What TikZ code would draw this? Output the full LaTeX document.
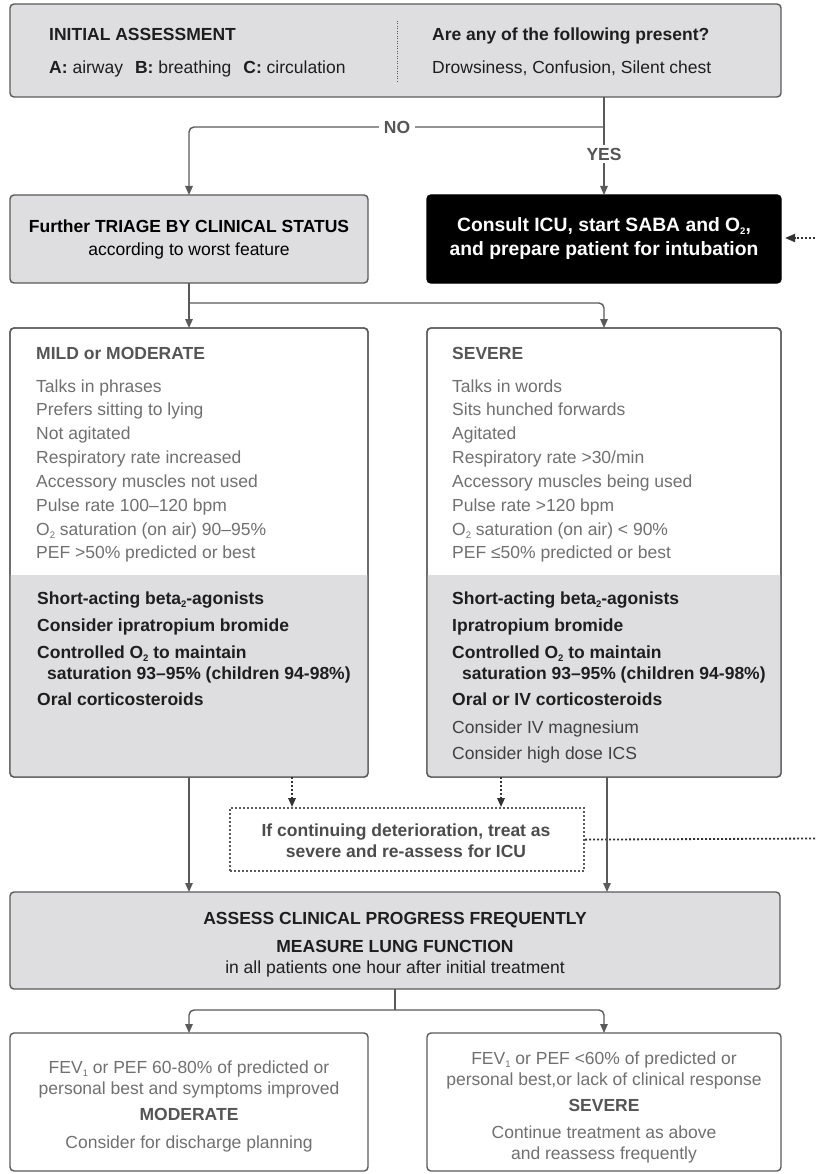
\documentclass[tikz,border=0pt]{standalone}
\usepackage{fontspec}
\setmainfont{Liberation Sans}
\usetikzlibrary{arrows.meta}
\definecolor{boxgray}{HTML}{DEDEE0}
\definecolor{linegray}{HTML}{5A5A5A}
\definecolor{txtgray}{HTML}{707070}
\definecolor{hdrgray}{HTML}{555555}
\definecolor{darktxt}{HTML}{1E1E1E}
\newcommand\myfs{\fontsize{17.5}{22}\selectfont}
\newcommand\mysub[1]{\raisebox{-3pt}{\fontsize{9.5}{10}\selectfont #1}}
\begin{document}
\begin{tikzpicture}[x=1pt,y=-1pt,
  box/.style={draw=linegray,line width=1.4pt,rounded corners=4pt,anchor=north west,inner sep=0pt,outer sep=0pt},
  conn/.style={draw=linegray,line width=1.4pt,rounded corners=5pt},
  arr/.style={-{Triangle[length=9pt,width=7.5pt]}},
  dotln/.style={draw=black!80,line width=1.8pt,dash pattern=on 1.8pt off 2.2pt},
  txt/.style={font=\myfs,anchor=base west,inner sep=0pt},
  btxt/.style={font=\myfs\bfseries,anchor=base west,inner sep=0pt},
  ctxt/.style={font=\myfs,anchor=base,inner sep=0pt},
  cbtxt/.style={font=\myfs\bfseries,anchor=base,inner sep=0pt},
]
\useasboundingbox (0,0) rectangle (815,1174);
\fill[white] (0,0) rectangle (815,1174);

% ---------- top box
\node[box,fill=boxgray,minimum width=771pt,minimum height=93pt] (top) at (10,4) {};
\draw[linegray,line width=1pt,dash pattern=on 1pt off 1.5pt] (397,21) -- (397,82);
\node[btxt,text=darktxt] (t1) at (49,41) {INITIAL ASSESSMENT};
\node[txt,text=darktxt] (t2) at (49,74) {\textbf{A:} airway\hspace{12pt}\textbf{B:} breathing\hspace{12pt}\textbf{C:} circulation};
\node[btxt,text=darktxt] (t3) at (432,41) {Are any of the following present?};
\node[txt,text=darktxt] (t4) at (432,74) {Drowsiness, Confusion, Silent chest};

% ---------- triage and ICU
\node[box,fill=boxgray,minimum width=358pt,minimum height=88pt,align=center,font=\myfs,text=black] (triage) at (10,195)
  {{\bfseries Further TRIAGE BY CLINICAL STATUS}\\[1pt]according to worst feature};
\node[box,draw=black,fill=black,minimum width=354pt,minimum height=88pt,align=center,font=\fontsize{19.3}{24}\selectfont\bfseries,text=white] (icu) at (427,195)
  {Consult ICU, start SABA and O\mysub{2},\\and prepare patient for intubation};

% connectors from top
\coordinate (j1) at (604,127);
\draw[conn] (604,0 |- top.south) -- (j1);
\draw[conn,arr] (j1) -| (triage.north);
\draw[conn,arr] (j1) -- (icu.north);
\node[fill=white,inner sep=5pt,font=\myfs\bfseries,text=hdrgray] (no) at (397,127) {NO};
\node[fill=white,inner sep=3pt,font=\myfs\bfseries,text=hdrgray] (yes) at (604,154) {YES};

% dotted arrow into ICU from the right
\coordinate (offa) at (815,238);
\coordinate (icuin) at (785,238);
\draw[dotln,-{Triangle[length=10pt,width=8pt]}] (offa) -- (icuin);

% ---------- mild and severe boxes
\node[box,fill=white,minimum width=358pt,minimum height=449pt] (mild) at (10,328) {};
\node[box,fill=white,minimum width=354pt,minimum height=449pt] (severe) at (427,328) {};
\begin{scope}
  \clip[rounded corners=4pt] (mild.north west) rectangle (mild.south east);
  \fill[boxgray] (10,575) rectangle (368,777);
\end{scope}
\begin{scope}
  \clip[rounded corners=4pt] (severe.north west) rectangle (severe.south east);
  \fill[boxgray] (427,575) rectangle (781,777);
\end{scope}
\draw[linegray,line width=1.4pt,rounded corners=4pt] (mild.north west) rectangle (mild.south east);
\draw[linegray,line width=1.4pt,rounded corners=4pt] (severe.north west) rectangle (severe.south east);

% connectors from triage
\coordinate (j2) at (189,303);
\draw[conn,arr] (triage.south) -- (mild.north);
\draw[conn,arr] (j2) -| (severe.north);

% mild text
\node[btxt,text=hdrgray] (mh) at (36,359) {MILD or MODERATE};
\foreach \t [count=\i from 0] in {Talks in phrases,Prefers sitting to lying,Not agitated,Respiratory rate increased,Accessory muscles not used,Pulse rate 100–120 bpm,O\mysub{2} saturation (on air) 90–95\%,PEF >50\% predicted or best}
  \node[txt,text=txtgray] (ml\i) at (36,{392+23.85*\i}) {\t};
\node[btxt,text=darktxt] (mg1) at (37,604) {Short-acting beta\mysub{2}-agonists};
\node[btxt,text=darktxt] (mg2) at (37,631) {Consider ipratropium bromide};
\node[btxt,text=darktxt] (mg3) at (37,658) {Controlled O\mysub{2} to maintain};
\node[btxt,text=darktxt] (mg4) at (47,679) {saturation 93–95\% (children 94-98\%)};
\node[btxt,text=darktxt] (mg5) at (37,705) {Oral corticosteroids};

% severe text
\node[btxt,text=hdrgray] (sh) at (452,359) {SEVERE};
\foreach \t [count=\i from 0] in {Talks in words,Sits hunched forwards,Agitated,Respiratory rate >30/min,Accessory muscles being used,Pulse rate >120 bpm,O\mysub{2} saturation (on air) < 90\%,PEF ≤50\% predicted or best}
  \node[txt,text=txtgray] (sl\i) at (452,{392+23.85*\i}) {\t};
\node[btxt,text=darktxt] (sg1) at (452,604) {Short-acting beta\mysub{2}-agonists};
\node[btxt,text=darktxt] (sg2) at (452,631) {Ipratropium bromide};
\node[btxt,text=darktxt] (sg3) at (452,658) {Controlled O\mysub{2} to maintain};
\node[btxt,text=darktxt] (sg4) at (462,679) {saturation 93–95\% (children 94-98\%)};
\node[btxt,text=darktxt] (sg5) at (452,705) {Oral or IV corticosteroids};
\node[txt,text=darktxt!85] (sg6) at (452,733) {Consider IV magnesium};
\node[txt,text=darktxt!85] (sg7) at (452,759) {Consider high dose ICS};

% ---------- deterioration box
\node[draw=linegray,line width=2.2pt,dash pattern=on 2pt off 2pt,anchor=north west,inner sep=0pt,minimum width=354pt,minimum height=63pt] (det) at (229,807) {};
\node[cbtxt,text=hdrgray!90!black] (d1) at (406,836) {If continuing deterioration, treat as};
\node[cbtxt,text=hdrgray!90!black] (d2) at (406,857) {severe and re-assess for ICU};
\draw[dotln,-{Triangle[length=9pt,width=7.5pt]}] (292,0 |- mild.south) -- (292,0 |- det.north);
\draw[dotln,-{Triangle[length=9pt,width=7.5pt]}] (501,0 |- severe.south) -- (501,0 |- det.north);
\coordinate (offb) at (815,838.5);
\draw[dotln] (det.east) -- (offb);

% ---------- assess box
\node[box,fill=boxgray,minimum width=770pt,minimum height=97pt] (assess) at (10,892) {};
\draw[conn,arr] (mild.south) -- (assess.north -| mild.south);
\draw[conn,arr] (607,0 |- severe.south) -- (607,0 |- assess.north);
\node[cbtxt,text=darktxt] (a1) at (395,924) {ASSESS CLINICAL PROGRESS FREQUENTLY};
\node[cbtxt,text=darktxt] (a2) at (395,952) {MEASURE LUNG FUNCTION};
\node[ctxt,text=darktxt] (a3) at (395,973) {in all patients one hour after initial treatment};

% ---------- bottom boxes
\node[box,fill=white,minimum width=358pt,minimum height=138pt] (low1) at (10,1033) {};
\node[box,fill=white,minimum width=354pt,minimum height=138pt] (low2) at (427,1033) {};
\coordinate (j3) at (395,1010);
\draw[conn] (assess.south) -- (j3);
\draw[conn,arr] (j3) -| (low1.north);
\draw[conn,arr] (j3) -| (low2.north);

\node[ctxt,text=txtgray] (b1) at (189,1073) {FEV\mysub{1} or PEF 60-80\% of predicted or};
\node[ctxt,text=txtgray] (b2) at (189,1094) {personal best and symptoms improved};
\node[cbtxt,text=hdrgray] (b3) at (189,1120) {MODERATE};
\node[ctxt,text=txtgray] (b4) at (189,1148) {Consider for discharge planning};

\node[ctxt,text=txtgray] (c1) at (604,1064) {FEV\mysub{1} or PEF <60\% of predicted or};
\node[ctxt,text=txtgray] (c2) at (604,1085) {personal best,or lack of clinical response};
\node[cbtxt,text=hdrgray] (c3) at (604,1111) {SEVERE};
\node[ctxt,text=txtgray] (c4) at (604,1138) {Continue treatment as above};
\node[ctxt,text=txtgray] (c5) at (604,1159) {and reassess frequently};
\end{tikzpicture}
\end{document}
